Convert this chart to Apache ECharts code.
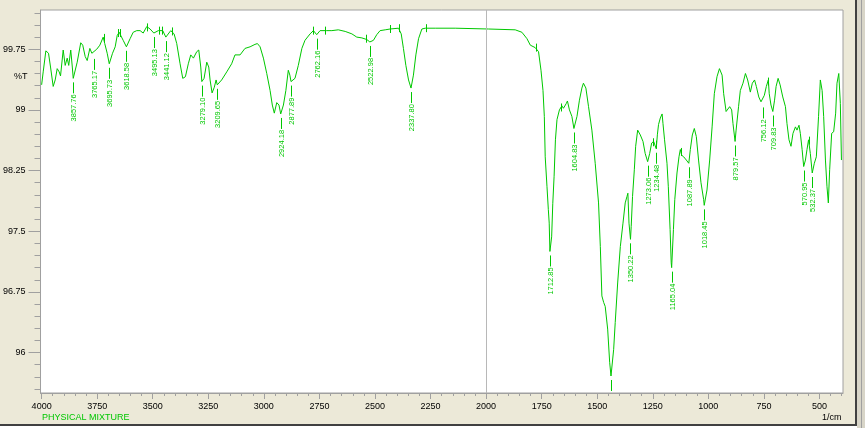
<!DOCTYPE html>
<html><head><meta charset="utf-8">
<script src="https://cdn.jsdelivr.net/npm/echarts@6/dist/echarts.min.js"></script>
<style>html,body{margin:0;padding:0;background:#ece9d8;overflow:hidden}#c{width:865px;height:428px}</style>
</head><body><div id="c"></div>
<script>
// Spectrum (wavenumber in 1/cm, %T)
const wavenumbers = [4000,3993,3981,3969,3960,3948,3939,3930,3921,3915,3903,3894,3885,3878,3869,3862,3857.76,3840,3824,3815,3804,3795,3783,3774,3765.17,3752,3738,3723,3716,3705,3695.73,3681,3669,3660,3651,3644,3633,3618.58,3602,3588,3572,3557,3543,3527,3512,3495.13,3475,3455,3441.12,3419,3404,3392,3377,3365,3353,3340,3329,3317,3302,3293,3284,3279.10,3269,3257,3248,3242,3233,3223,3215,3209.65,3190,3167,3145,3130,3122,3107,3085,3062,3040,3029,3017,3002,2987,2972,2962,2953,2942,2932,2924.18,2912,2901,2890,2883,2877.89,2860,2845,2829,2815,2792,2777,2762.16,2747,2717,2694,2665,2634,2604,2582,2559,2537,2522.98,2507,2492,2477,2454,2432,2394,2382,2372,2361,2349,2337.80,2327,2316,2304,2289,2274,2229,2139,1989,1869,1839,1816,1801,1779,1764,1753,1744,1738,1734,1726,1720,1716,1712.85,1705,1700,1694,1688,1681,1670,1659,1652,1639,1634,1625,1614,1604.83,1591,1580,1569,1562,1551,1539,1524,1509,1494,1486,1479,1471,1464,1453,1444,1438,1426,1419,1408,1396,1384,1374,1366,1362,1357,1350.22,1347,1341,1333,1327,1318,1306,1294,1284,1273.06,1264,1255,1246,1240,1234.48,1229,1224,1216,1208,1204,1197,1186,1180,1172,1167,1165.04,1157,1151,1141,1132,1126,1120,1111,1099,1087.89,1081,1072,1063,1054,1044,1033,1021,1018.45,1006,994,983,973,961,950,946,938,931,920,913,904,895,889,879.57,875,864,856,844,833,823,811,802,792,784,773,763,756.12,748,739,730,726,718,709.83,702,695,686,677,665,653,646,637,628,619,608,601,592,586,578,570.95,563,556,549,541,532.37,523,514,504,496,488,481,473,466,460,454,445,436,427,421,413,406,401];
const transmittance = [99.31,99.47,99.73,99.70,99.53,99.29,99.37,99.51,99.47,99.42,99.74,99.55,99.64,99.55,99.74,99.53,99.39,99.59,99.83,99.80,99.66,99.61,99.76,99.70,99.68,99.75,99.80,99.90,99.82,99.70,99.57,99.70,99.78,99.92,99.96,99.92,99.86,99.78,99.88,99.96,99.98,99.98,99.95,100.03,100.00,99.95,99.98,99.98,99.90,99.98,99.94,99.82,99.57,99.39,99.41,99.57,99.68,99.64,99.72,99.74,99.53,99.35,99.39,99.59,99.53,99.37,99.21,99.28,99.37,99.31,99.37,99.47,99.57,99.68,99.70,99.68,99.76,99.78,99.81,99.82,99.78,99.64,99.45,99.24,99.06,98.96,99.09,99.06,98.95,99.06,99.24,99.49,99.43,99.35,99.39,99.55,99.76,99.86,99.94,99.98,99.93,99.98,99.98,99.98,99.99,99.97,99.94,99.90,99.89,99.87,99.84,99.86,99.93,99.98,99.99,100.00,100.01,99.94,99.76,99.55,99.37,99.27,99.43,99.68,99.88,100.00,100.01,100.01,100.01,100.00,99.99,99.96,99.88,99.80,99.77,99.72,99.49,99.24,98.92,98.42,98.05,97.77,97.60,97.25,97.43,97.84,98.18,98.63,98.88,99.00,99.05,99.02,99.08,99.11,99.00,98.92,98.77,98.92,99.12,99.27,99.33,99.27,99.04,98.75,98.34,97.85,97.31,96.70,96.62,96.57,96.29,95.88,95.71,96.04,96.37,96.86,97.31,97.60,97.85,97.93,97.97,97.60,97.40,97.56,97.93,98.26,98.55,98.75,98.69,98.61,98.46,98.36,98.46,98.59,98.61,98.60,98.52,98.70,98.82,98.90,98.95,98.83,98.63,98.34,98.05,97.52,97.11,97.05,97.52,97.89,98.22,98.42,98.51,98.44,98.42,98.38,98.34,98.51,98.69,98.77,98.67,98.38,98.10,97.89,97.82,98.01,98.38,98.79,99.20,99.41,99.51,99.53,99.43,99.20,98.98,99.00,99.04,99.00,98.83,98.61,98.75,99.04,99.24,99.33,99.45,99.37,99.22,99.33,99.37,99.29,99.16,99.10,99.08,99.18,99.29,99.37,99.20,99.06,98.98,99.12,99.29,99.39,99.31,99.16,99.04,98.83,98.63,98.55,98.71,98.79,98.75,98.81,98.71,98.51,98.30,98.38,98.51,98.63,98.46,98.22,98.34,98.42,98.92,99.37,99.24,98.92,98.38,98.05,97.85,98.26,98.71,98.73,98.96,99.33,99.45,99.08,98.38];

// Peak picks
const peakWavenumbers = [3857.76,3765.17,3695.73,3618.58,3495.13,3441.12,3279.10,3209.65,2924.18,2877.89,2762.16,2522.98,2337.80,1712.85,1604.83,1438,1350.22,1273.06,1234.48,1165.04,1087.89,1018.45,879.57,756.12,709.83,570.95,532.37];
const peakTransmittance = [99.39,99.68,99.57,99.78,99.95,99.90,99.35,99.31,98.95,99.35,99.93,99.84,99.27,97.25,98.77,95.71,97.40,98.36,98.52,97.05,98.34,97.82,98.61,99.08,98.98,98.30,98.22];
const peakLabels = ['3857.76','3765.17','3695.73','3618.58','3495.13','3441.12','3279.10','3209.65','2924.18','2877.89','2762.16','2522.98','2337.80','1712.85','1604.83','','1350.22','1273.06','1234.48','1165.04','1087.89','1018.45','879.57','756.12','709.83','570.95','532.37'];

// Small range markers on the trace
const markerWavenumbers = [3720,3655,3647,3525,3470,3460,3415,2780,2725,2540,2432,2390,2271,1774,1663,1249,1237,1123,731,548];
const markerTransmittance = [99.89,99.95,99.95,100.02,99.98,99.98,99.97,99.98,99.98,99.88,100.00,100.01,100.01,99.77,99.03,98.60,98.57,98.48,99.35,98.62];

// Axis ticks
const xMajorTicks = [4000,3750,3500,3250,3000,2750,2500,2250,2000,1750,1500,1250,1000,750,500];
const yMajorTicks = [96,96.75,97.5,98.25,99,99.75];
const xMinorTicks = [];
for (let v = 4000; v >= 400; v -= 50) xMinorTicks.push(v);
const yMinorTicks = [];
for (let k = 0; k <= 31; k++) yMinorTicks.push(Math.round((95.55 + k * 0.15) * 100) / 100);

const green = '#00c800';
const font = 'Liberation Sans, Arial, sans-serif';
const chart = echarts.init(document.getElementById('c'), null, {renderer: 'canvas'});

function xAxisDef(ticks, len, labels) {
  return {
    type: 'value', min: 394, max: 4005, inverse: true, position: 'bottom', gridIndex: 0,
    axisLine: {show: labels, lineStyle: {color: '#a0a0a0'}},
    splitLine: {show: false},
    axisTick: {show: true, length: len, customValues: ticks, lineStyle: {color: '#a0a0a0'}},
    axisLabel: labels ? {customValues: ticks, color: '#000', fontSize: 9, fontFamily: font, margin: 9,
                         formatter: function (v) { return String(v); }} : {show: false}
  };
}
function yAxisDef(ticks, len, labels) {
  return {
    type: 'value', min: 95.5, max: 100.235, position: 'left', gridIndex: 0,
    axisLine: {show: labels, lineStyle: {color: '#a0a0a0'}},
    splitLine: {show: false},
    axisTick: {show: true, length: len, customValues: ticks, lineStyle: {color: '#a0a0a0'}},
    axisLabel: labels ? {customValues: ticks, color: '#000', fontSize: 9, fontFamily: font, margin: 15,
                         formatter: function (v) { return String(v); }} : {show: false}
  };
}

const option = {
  backgroundColor: '#ece9d8',
  animation: false,
  grid: {left: 40, right: 22, top: 10, bottom: 35, show: true, backgroundColor: '#ffffff', borderColor: '#a0a0a0', borderWidth: 1},
  xAxis: [xAxisDef(xMajorTicks, 6, true), xAxisDef(xMinorTicks, 3, false)],
  yAxis: [yAxisDef(yMajorTicks, 12, true), yAxisDef(yMinorTicks, 6, false)],
  graphic: [
    {type: 'text', left: 14, top: 72, style: {text: '%T', fill: '#000', font: '9px ' + font}},
    {type: 'text', left: 42, top: 413, style: {text: 'PHYSICAL MIXTURE', fill: green, font: '9px ' + font}},
    {type: 'text', left: 822, top: 413, style: {text: '1/cm', fill: '#000', font: '9px ' + font}},
    {type: 'rect', shape: {x: 0, y: 424, width: 857, height: 2}, style: {fill: '#404040'}},
    {type: 'rect', shape: {x: 0, y: 426, width: 865, height: 2}, style: {fill: '#ffffff'}},
    {type: 'rect', shape: {x: 855, y: 0, width: 2, height: 426}, style: {fill: '#404040'}},
    {type: 'rect', shape: {x: 857, y: 0, width: 8, height: 428}, style: {fill: '#d8d5c8'}},
    {type: 'rect', shape: {x: 861, y: 0, width: 1, height: 428}, style: {fill: '#a0a0a0'}}
  ],
  series: [
    {
      type: 'line', xAxisIndex: 0, yAxisIndex: 0,
      data: wavenumbers.map((w, i) => [w, transmittance[i]]),
      symbol: 'none', showSymbol: false, clip: true,
      lineStyle: {color: green, width: 1},
      markLine: {
        silent: true, symbol: ['none', 'none'], label: {show: false},
        lineStyle: {color: '#b8b8b8', width: 1, type: 'solid'},
        emphasis: {disabled: true},
        data: [{xAxis: 2000}]
      }
    },
    {
      type: 'custom', xAxisIndex: 0, yAxisIndex: 0, clip: true,
      data: peakWavenumbers.map((w, i) => [w, peakTransmittance[i]]),
      renderItem: function (params, api) {
        const p = api.coord([api.value(0), api.value(1)]);
        const x = Math.round(p[0]) + 0.5;
        const y = p[1];
        return {
          type: 'group',
          children: [
            {type: 'line', shape: {x1: x, y1: y + 4, x2: x, y2: y + 15}, style: {stroke: green, lineWidth: 1}},
            {type: 'text', x: x + 0.5, y: y + 16, rotation: Math.PI / 2,
             style: {text: peakLabels[params.dataIndex], fill: green, font: '7.5px ' + font, align: 'right', verticalAlign: 'middle'}}
          ]
        };
      }
    },
    {
      type: 'custom', xAxisIndex: 0, yAxisIndex: 0, clip: true,
      data: markerWavenumbers.map((w, i) => [w, markerTransmittance[i]]),
      renderItem: function (params, api) {
        const p = api.coord([api.value(0), api.value(1)]);
        const x = Math.round(p[0]) + 0.5;
        return {type: 'line', shape: {x1: x, y1: p[1] - 4, x2: x, y2: p[1] + 4}, style: {stroke: green, lineWidth: 1}};
      }
    }
  ]
};
chart.setOption(option);
</script>
</body></html>
